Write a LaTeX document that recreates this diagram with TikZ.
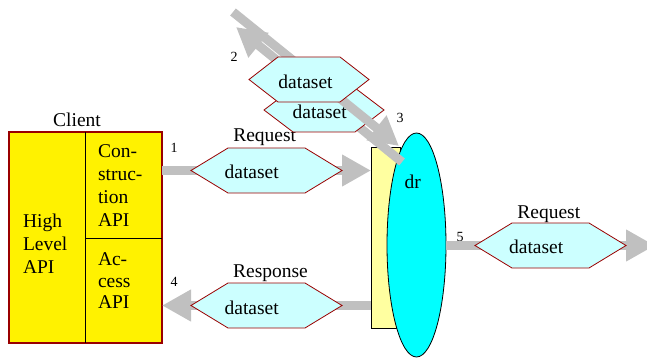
\documentclass[tikz,border=0pt]{standalone}
\usepackage{fontspec}
\setmainfont{Liberation Serif}
\usetikzlibrary{arrows.meta,shapes.geometric}
\definecolor{dred}{RGB}{153,0,0}
\definecolor{agray}{RGB}{192,192,192}
\definecolor{hexfill}{RGB}{204,255,255}
\definecolor{lyellow}{RGB}{255,255,160}
\definecolor{cyanc}{RGB}{0,255,255}
\newcommand\hexpath[2]{%
  \filldraw[hexline] (#1.west) -- ([xshift=#2]#1.north west) -- ([xshift=-#2]#1.north east)
    -- (#1.east) -- ([xshift=-#2]#1.south east) -- ([xshift=#2]#1.south west) -- cycle;}
\begin{document}
\begin{tikzpicture}[x=1pt,y=-1pt,
  big/.style={font=\fontsize{19.5}{23}\selectfont, inner sep=0pt, outer sep=0pt},
  lbl/.style={big, anchor=base},
  num/.style={font=\fontsize{14}{16}\selectfont, inner sep=0pt, anchor=base},
  flow/.style={agray, line width=9pt, -{Triangle[length=29pt,width=30pt]}},
  hexbox/.style={minimum height=45pt, inner sep=0pt, outer sep=0pt},
  hexline/.style={draw=dred, fill=hexfill, line width=0.8pt},
  thin/.style={draw=black, line width=0.8pt},
]
\useasboundingbox (0,0) rectangle (647,358);

% client box
\node[draw=dred, line width=2pt, fill=yellow, minimum width=153pt, minimum height=211pt,
      inner sep=0pt, outer sep=0pt] (client) at (85.5,237.5) {};
\draw[thin] ([xshift=76pt]client.north west) -- ([xshift=76pt]client.south west);
\coordinate (split) at (85,238);
\draw[thin] (split) -- (split -| client.east);
\node[lbl] (clientlbl) at (77,127) {Client};
\node[big, anchor=north west, align=left] (hla) at (23,213.7) {High\\Level\\API};
\node[big, anchor=north west, align=left] (cons) at (98,144.7) {Con-\\struc-\\tion\\API};
\node[big, anchor=north west, align=left, font=\fontsize{19.5}{21.5}\selectfont] (acc) at (98,252.7) {Ac-\\cess\\API};

% data reader
\node[thin, fill=lyellow, minimum width=29pt, minimum height=181pt, inner sep=0pt, outer sep=0pt] (rect) at (385.5,237.5) {};
\node[ellipse, thin, fill=cyanc, minimum width=59pt, minimum height=224pt, inner sep=0pt, outer sep=0pt] (dr) at (416.5,245) {};
\node[lbl] (drlbl) at (412.7,188.3) {dr};

% hexagon frames
\node[hexbox, minimum width=151pt] (h1) at (266.5,170.5) {};
\node[hexbox, minimum width=151pt] (h4) at (266.5,305.5) {};
\node[hexbox, minimum width=151pt] (h5) at (550.5,245.5) {};
\node[hexbox, minimum width=120pt] (hu) at (309,79.5) {};
\node[hexbox, minimum width=120pt, minimum height=44pt] (hl) at (324,110) {};

% numbers
\node[num] (n1) at (174,153) {1};
\node[num] (n2) at (234,61.7) {2};
\node[num] (n3) at (400,122.7) {3};
\node[num] (n4) at (174,286.7) {4};
\node[num] (n5) at (460,241.7) {5};

% horizontal flows
\coordinate (end5) at (655,245.5);
\draw[flow] (client.east |- h1) -- (rect.west |- h1);
\draw[flow] (rect.west |- h4) -- (client.east |- h4);
\draw[flow] (dr.east |- h5) -- (end5);

\hexpath{h1}{37pt}
\hexpath{h4}{37pt}
\hexpath{h5}{37pt}
\node[lbl] (t1) at (251.7,178.3) {dataset};
\node[lbl] (t4) at (251.7,314) {dataset};
\node[lbl] (t5) at (536.2,253.3) {dataset};
\node[lbl] (req1) at (264.7,142) {Request};
\node[lbl] (resp) at (270.5,277.7) {Response};
\node[lbl] (req5) at (548.8,218.3) {Request};

% diagonal flows and the two stacked hexagons
\coordinate (a3s) at (233,12);
\coordinate (a3e) at (399,146);
\coordinate (a2s) at (402,162);
\coordinate (a2e) at (236,27);
\draw[flow] (a2s) -- (a2e);
\hexpath{hl}{29pt}
\node[lbl] (tl) at (319.7,118.3) {dataset};
\draw[flow] (a3s) -- (a3e);
\hexpath{hu}{29pt}
\node[lbl] (tu) at (305.5,88.3) {dataset};
\end{tikzpicture}
\end{document}
